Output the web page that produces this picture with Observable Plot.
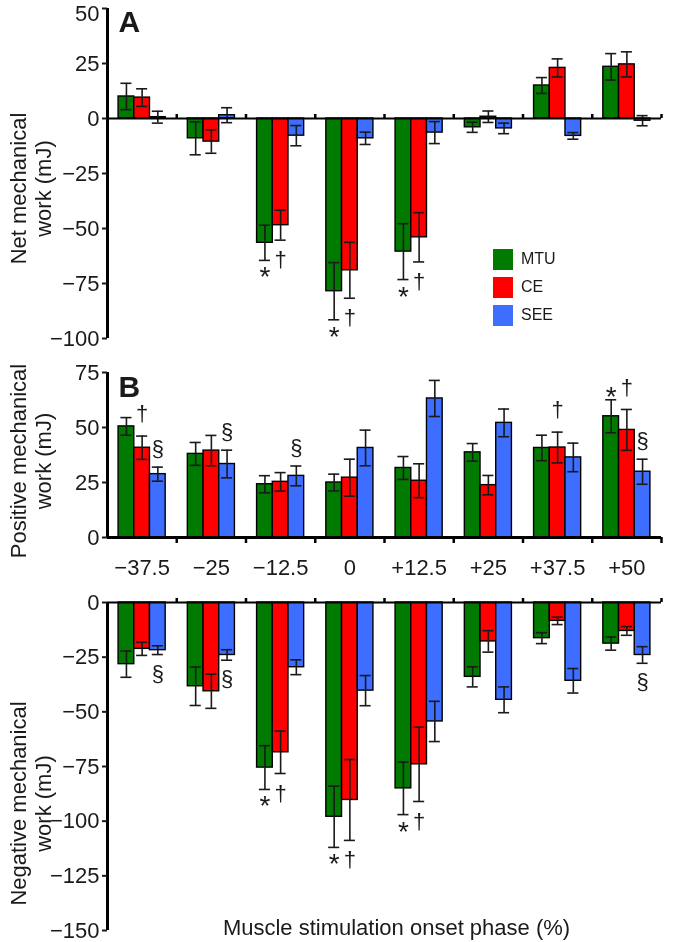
<!DOCTYPE html>
<html><head><meta charset="utf-8">
<script src="https://cdn.jsdelivr.net/npm/d3@7"></script>
<script src="https://cdn.jsdelivr.net/npm/@observablehq/plot@0.6"></script>
<style>
body{margin:0;background:#fff;font-family:"Liberation Sans",Arial,sans-serif;}
#fig{position:relative;width:675px;height:942px;overflow:hidden;background:#fff;}
.panel{position:absolute;left:0;will-change:transform;}
.panel svg text{filter:grayscale(1);}
.legend{position:absolute;left:493px;top:245px;font-size:16px;color:#1a1a1a;}
.legend div{display:flex;align-items:center;height:28px;}
.legend span.sw{display:inline-block;width:20px;height:21px;margin-right:8px;}
</style></head><body><div id="fig"></div>
<script>
// ---------- data ----------
const phases = ["−37.5","−25","−12.5","0","+12.5","+25","+37.5","+50"];
const seriesNames = ["MTU","CE","SEE"];
const seriesColors = ["#007a00","#ff0000","#3d6eff"];

// A: net mechanical work (mJ), mean and error
const netMTU = [10, -9, -56.5, -78.5, -60.5, -4, 15, 23.5];
const netMTUErr = [6, 7.5, 8, 13, 12.7, 2.3, 3.6, 6];
const netCE = [9.5, -10.5, -48.5, -69, -54, 0.8, 23, 24.6];
const netCEErr = [4, 5.3, 6.8, 12.7, 11.2, 2.6, 4.1, 5.7];
const netSEE = [0.6, 1.5, -7.8, -9, -6.4, -4.5, -7.9, -1];
const netSEEErr = [2.7, 3.4, 4.6, 2.8, 5, 2.4, 1.5, 2.3];

// B: positive mechanical work (mJ)
const posMTU = [50.5, 38, 24.2, 25, 31.6, 38.7, 40.7, 55.1];
const posMTUErr = [4, 5.2, 3.9, 3.8, 5.2, 4, 5.8, 7.5];
const posCE = [40.8, 39.5, 25.3, 27.2, 25.8, 23.8, 40.9, 48.9];
const posCEErr = [5.3, 6.9, 4.2, 8.4, 7.7, 4.4, 7, 9.3];
const posSEE = [28.8, 33.4, 28, 40.7, 63.2, 52.1, 36.4, 29.9];
const posSEEErr = [3.2, 6.3, 4.5, 8.1, 8.2, 6.3, 6.5, 5.7];

// B: negative mechanical work (mJ)
const negMTU = [-28.2, -38.3, -75.5, -98, -85, -34, -16.3, -18.8];
const negMTUErr = [6, 8.8, 10, 14, 12, 4.6, 2.5, 3];
const negCE = [-21.2, -40.6, -68.5, -90.3, -74, -17.8, -8.4, -13];
const negCEErr = [3, 7.8, 9.7, 18.5, 17, 4.9, 1.7, 2];
const negSEE = [-21.8, -24, -29.6, -40.3, -54.4, -44.5, -35.8, -24];
const negSEEErr = [2, 2.4, 3.4, 6.9, 9.2, 5.9, 5.6, 3.8];

// significance symbols: [phase index, series index, symbol]
const netSig = [[2,0,"*"],[2,1,"†"],[3,0,"*"],[3,1,"†"],[4,0,"*"],[4,1,"†"]];
const posSig = [[0,1,"†"],[0,2,"§"],[1,2,"§"],[2,2,"§"],[6,1,"†"],[7,0,"*"],[7,1,"†"],[7,2,"§"]];
const negSig = [[0,2,"§"],[1,2,"§"],[2,0,"*"],[2,1,"†"],[3,0,"*"],[3,1,"†"],[4,0,"*"],[4,1,"†"],[7,2,"§"]];

const netTicks = [50, 25, 0, -25, -50, -75, -100];
const posTicks = [0, 25, 50, 75];
const negTicks = [0, -25, -50, -75, -100, -125, -150];

// ---------- layout / style ----------
const GROUP_PAD = 0.16, BAR_W = 0.68 / 3, CAP = 0.08;
const FONT = "'Liberation Sans', Arial, Helvetica, sans-serif";
const INK = "#1a1a1a";
const fmt = d => d < 0 ? "−" + Math.abs(d) : String(d);

function buildRows(vals, errs) {
  const rows = [];
  phases.forEach((p, i) => seriesNames.forEach((s, j) => {
    const x1 = i + GROUP_PAD + j * BAR_W;
    rows.push({phase: p, series: s, i, j, value: vals[j][i], err: errs[j][i],
      x1, x2: x1 + BAR_W, xc: x1 + BAR_W / 2});
  }));
  return rows;
}

function panel(cfg) {
  const rows = buildRows(cfg.values, cfg.errors);
  const ann = cfg.sig.map(([i, j, sym]) => {
    const r = rows.find(d => d.i === i && d.j === j);
    return {...r, sym, yEnd: cfg.above ? r.value + r.err : r.value - r.err};
  });
  const offs = cfg.above ? {"*": -3, "†": -22, "§": -18} : {"*": 17, "†": 20, "§": 19};
  const symSize = {"*": 28, "†": 22, "§": 22};
  const topTick = cfg.ticks[0] === cfg.domain[1] ? cfg.ticks[0] : null;
  const marks = [
    Plot.rect(rows, {x1: "x1", x2: "x2", y1: 0, y2: "value", fill: "series", stroke: "black", strokeWidth: 1.4}),
    Plot.ruleX(rows, {x: "xc", y1: d => d.value - d.err, y2: d => d.value + d.err, stroke: INK, strokeWidth: 1.6}),
    Plot.ruleY(rows, {y: d => d.value + d.err, x1: d => d.xc - CAP, x2: d => d.xc + CAP, stroke: INK, strokeWidth: 1.6}),
    Plot.ruleY(rows, {y: d => d.value - d.err, x1: d => d.xc - CAP, x2: d => d.xc + CAP, stroke: INK, strokeWidth: 1.6}),
    Plot.ruleY([0], {x1: 0, x2: phases.length, stroke: "black", strokeWidth: cfg.xAxisWidth}),
    Plot.ruleX(d3.range(1, phases.length + 1), cfg.ticksDown
      ? {y1: 0, y2: 0, insetBottom: -6, stroke: "black", strokeWidth: 2.5}
      : {y1: 0, y2: 0, insetTop: -4, stroke: "black", strokeWidth: 2.5}),
    Plot.ruleX([0], {y1: cfg.domain[0], y2: cfg.domain[1], stroke: "black", strokeWidth: 3}),
    Plot.axisY(cfg.ticks, {tickSize: 5, tickPadding: 3, strokeWidth: 2, fontSize: 22, fill: INK, label: null,
      tickFormat: d => (cfg.shiftTop && d === topTick) ? "" : fmt(d)}),
    Plot.text([cfg.title], {text: d => d, frameAnchor: "left", rotate: -90, dx: -77.5, dy: cfg.titleDy,
      lineAnchor: "middle", textAnchor: "middle", lineHeight: 1.14, fontSize: 22, fill: INK}),
    ...["*", "†", "§"].map(sym => Plot.text(ann.filter(a => a.sym === sym),
      {x: "xc", y: "yEnd", text: "sym", lineAnchor: "middle", dy: offs[sym], fontSize: symSize[sym], fill: INK}))
  ];
  if (cfg.shiftTop && topTick != null) marks.push(Plot.axisY([topTick], {tickSize: 0, tickPadding: 8, dy: 5,
    tickFormat: fmt, fontSize: 22, fill: INK, label: null}));
  if (cfg.letter) marks.push(Plot.text([cfg.letter], {text: d => d, frameAnchor: "top-left", dx: 11, dy: cfg.letterDy,
    lineAnchor: "top", textAnchor: "start", fontSize: 30, fontWeight: "bold", fill: INK}));
  if (cfg.labels) marks.push(Plot.axisX(d3.range(phases.length).map(i => i + 0.5),
    {tickSize: 0, tickPadding: 22, tickFormat: v => phases[Math.floor(v)], fontSize: 22, fill: INK, label: null}));
  if (cfg.xTitle) marks.push(Plot.text([cfg.xTitle], {text: d => d, frameAnchor: "bottom", dx: 12, dy: -3,
    lineAnchor: "middle", fontSize: 22, fill: INK}));
  const svg = Plot.plot({
    width: 675, height: cfg.height,
    marginLeft: 107, marginRight: 14, marginTop: cfg.marginTop, marginBottom: cfg.marginBottom,
    x: {domain: [0, phases.length], axis: null},
    y: {domain: cfg.domain, axis: null},
    color: {domain: seriesNames, range: seriesColors},
    style: {background: "transparent", fontFamily: FONT, fontSize: "22px", color: INK, overflow: "visible"},
    marks
  });
  const wrap = document.createElement("div");
  wrap.className = "panel";
  wrap.style.top = cfg.top + "px";
  wrap.appendChild(svg);
  document.getElementById("fig").appendChild(wrap);
}

panel({values: [netMTU, netCE, netSEE], errors: [netMTUErr, netCEErr, netSEEErr], sig: netSig,
  domain: [-100, 50], ticks: netTicks, top: 0, height: 350, marginTop: 8, marginBottom: 12,
  title: "Net mechanical\nwork (mJ)", titleDy: 15, letter: "A", letterDy: 2, above: false,
  xAxisWidth: 2, ticksDown: false, shiftTop: true});

panel({values: [posMTU, posCE, posSEE], errors: [posMTUErr, posCEErr, posSEEErr], sig: posSig,
  domain: [0, 75], ticks: posTicks, top: 360, height: 230, marginTop: 12, marginBottom: 53,
  title: "Positive mechanical\nwork (mJ)", titleDy: 6, letter: "B", letterDy: 3, above: true,
  xAxisWidth: 3, ticksDown: true, labels: true});

panel({values: [negMTU, negCE, negSEE], errors: [negMTUErr, negCEErr, negSEEErr], sig: negSig,
  domain: [-150, 0], ticks: negTicks, top: 590, height: 352, marginTop: 12, marginBottom: 12,
  title: "Negative mechanical\nwork (mJ)", titleDy: 37, above: false,
  xAxisWidth: 2, ticksDown: false, xTitle: "Muscle stimulation onset phase (%)"});

// legend
const leg = document.createElement("div");
leg.className = "legend";
seriesNames.forEach((s, j) => {
  const row = document.createElement("div");
  const sw = document.createElement("span");
  sw.className = "sw";
  sw.style.background = seriesColors[j];
  row.appendChild(sw);
  row.appendChild(document.createTextNode(s));
  leg.appendChild(row);
});
document.getElementById("fig").appendChild(leg);
</script></body></html>
